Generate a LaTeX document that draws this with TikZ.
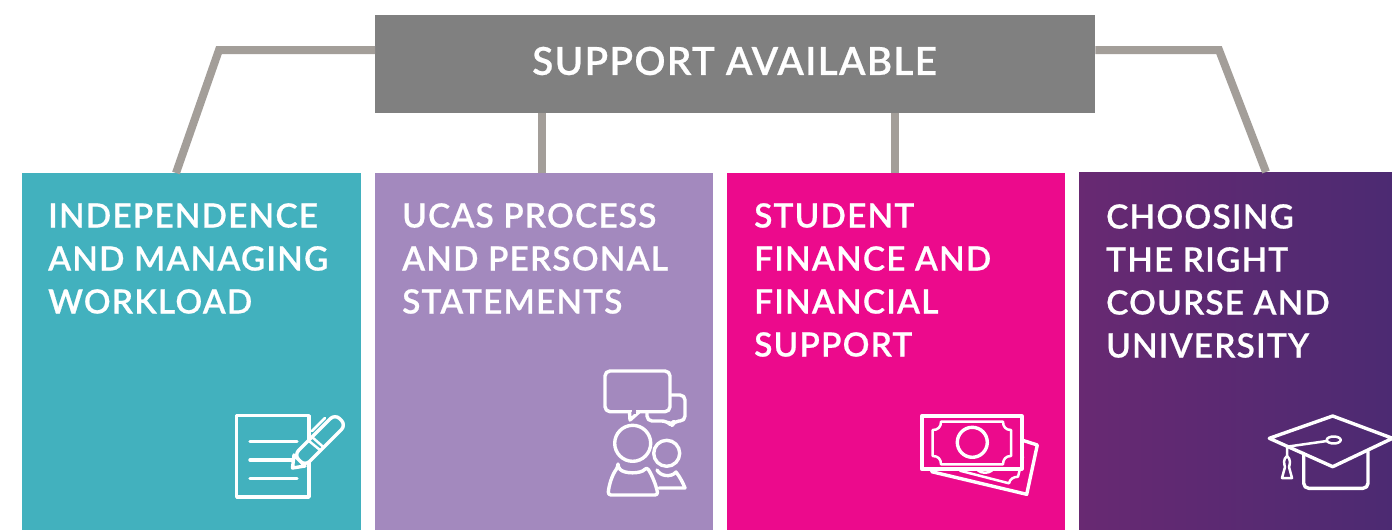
\documentclass[tikz,border=0pt]{standalone}
\usepackage{fontspec}
\setmainfont{Lato}
\newfontfamily\lbl[LetterSpace=3.5,FakeBold=0.6]{Lato Semibold}
\definecolor{teal}{HTML}{42B1BE}
\definecolor{lilac}{HTML}{A389BE}
\definecolor{pink}{HTML}{EC0A8C}
\definecolor{plumL}{HTML}{682972}
\definecolor{plumR}{HTML}{4C2A72}
\definecolor{greyh}{HTML}{808080}
\definecolor{conn}{HTML}{A39E99}
\tikzset{
 panel/.style={draw=none,minimum width=#1,minimum height=357pt,inner sep=0pt,anchor=north west},
 head/.style={text=white,anchor=north west,align=left,inner sep=0pt,font=\lbl\fontsize{33.4pt}{43pt}\selectfont},
 link/.style={draw=conn,line width=8pt,line join=miter},
 icon/.style={draw=white,line width=3.4pt,line join=round,line cap=round},
 thin/.style={draw=white,line width=2.5pt,line join=round,line cap=round},
}
\begin{document}
\begin{tikzpicture}[x=1pt,y=-1pt]
\useasboundingbox[fill=white] (0,0) rectangle (1392,530);
% panels
\node[panel=339pt,fill=teal] (p1) at (22,173) {};
\node[panel=338pt,fill=lilac] (p2) at (375,173) {};
\node[panel=338pt,fill=pink] (p3) at (727,173) {};
\node[panel=313pt,left color=plumL,right color=plumR,minimum height=358pt] (p4) at (1079,172) {};
\node[fill=greyh,minimum width=720pt,minimum height=98pt,inner sep=0pt,anchor=north west] (hdr) at (375,15) {};
\node[text=white,inner sep=0pt,font=\lbl\fontsize{38.6pt}{40pt}\selectfont] (ttl) at (734.5,61) {SUPPORT AVAILABLE};
% connectors
\coordinate (y0) at (0,50);
\coordinate (k1) at (219,50);
\coordinate (k4) at (1219,50);
\coordinate (e1) at (176,173);
\coordinate (e2) at (542,173);
\coordinate (e3) at (895,173);
\coordinate (e4) at (1266,172);
\draw[link] (hdr.west |- y0) -- (k1) -- (e1 |- p1.north);
\draw[link] (e2 |- hdr.south) -- (e2 |- p2.north);
\draw[link] (e3 |- hdr.south) -- (e3 |- p3.north);
\draw[link] (hdr.east |- y0) -- (k4) -- (e4 |- p4.north);
% text
\node[head] (t1) at (48,203) {INDEPENDENCE\\AND MANAGING\\WORKLOAD};
\node[head] (t2) at (402,203) {UCAS PROCESS\\AND PERSONAL\\STATEMENTS};
\node[head] (t3) at (754,203) {STUDENT\\FINANCE AND\\FINANCIAL\\SUPPORT};
\node[head] (t4) at (1106,204) {CHOOSING\\THE RIGHT\\COURSE AND\\UNIVERSITY};
% icon: page and pen
\draw[icon] (236.7,415.7) rectangle (309,497);
\draw[icon] (250,441.7) -- (297,441.7) (250,460) -- (293,460) (250,478.3) -- (297,478.3);
\draw[icon,fill=teal,rounded corners=6.5pt] (294,455) -- (335,414) -- (346,425) -- (305,466) -- cycle;
\draw[icon,fill=teal] (294,455) -- (292.5,468) -- (305,466) -- cycle;
\draw[thin] (311.7,436.7) -- (323,446.7) (309,441) -- (320,450);
\draw[thin] (312,431) -- (325,418);
% icon: speech and people
\draw[icon,rounded corners=5pt] (670,395) -- (685,395) -- (685,421) -- (674,421) -- (671.7,426) -- (667,421) -- (647,421) -- (647,412);
\draw[icon,fill=lilac,rounded corners=5pt] (605,371) rectangle (670,411.7);
\draw[icon,fill=lilac,line join=round] (629.5,411.7) -- (630,420) -- (639,412);
\draw[draw=lilac,line width=4pt] (632,411.7) -- (636,411.7);
\draw[icon] (666.7,453.3) circle (13);
\draw[icon] (657,470) .. controls (660,476) and (671,478) .. (676,472) .. controls (680,477) and (683,483) .. (685,488) -- (659,488);
\draw[icon,fill=lilac] (632.7,443.3) circle (18);
\draw[icon,fill=lilac,rounded corners=3pt] (618,467) .. controls (624,474) and (641,474) .. (646.7,467) .. controls (652,475) and (656,485) .. (658,495) -- (608,495) .. controls (609,485) and (612,475) .. (618,467) -- cycle;
% icon: banknotes
\draw[icon] (1021.7,440) -- (1037.3,445) -- (1026.7,494.3) -- (931.7,471.7);
\draw[thin] (1023,456.7) -- (1018,476.7) .. controls (1013,477) and (1010,479) .. (1009,483.3) -- (960,470.7);
\draw[thin] (978,470.5) .. controls (982,473.5) and (988,473.5) .. (992,470.5);
\draw[icon,line width=3.6pt,fill=pink] (921.7,416) rectangle (1021.7,469);
\draw[thin] (941,421.7) -- (1003,421.7) .. controls (1003,427) and (1006,430) .. (1011,430) -- (1011,456) .. controls (1006,456) and (1003,459) .. (1003,464.3) -- (941,464.3) .. controls (941,459) and (938,456) .. (932.7,456) -- (932.7,430) .. controls (938,430) and (941,427) .. (941,421.7) -- cycle;
\draw[icon] (972.3,442.3) circle (15);
% icon: mortarboard
\draw[icon,rounded corners=5pt] (1303.7,453.3) -- (1303.7,488.3) -- (1368,488.3) -- (1368,451.7);
\draw[icon] (1332.7,416) -- (1392.5,438.3) -- (1332.7,466.7) -- (1269.3,438.3) -- cycle;
\draw[thin] (1327,441) -- (1287,446.7) -- (1287,456.7);
\draw[thin] (1333.7,440) ellipse (7 and 3.5);
\draw[thin] (1287,456) .. controls (1283,459) and (1284,464) .. (1285,467) -- (1282,478) -- (1292,478) -- (1289,467) .. controls (1290,464) and (1291,459) .. (1287,456) -- cycle;
\end{tikzpicture}
\end{document}
